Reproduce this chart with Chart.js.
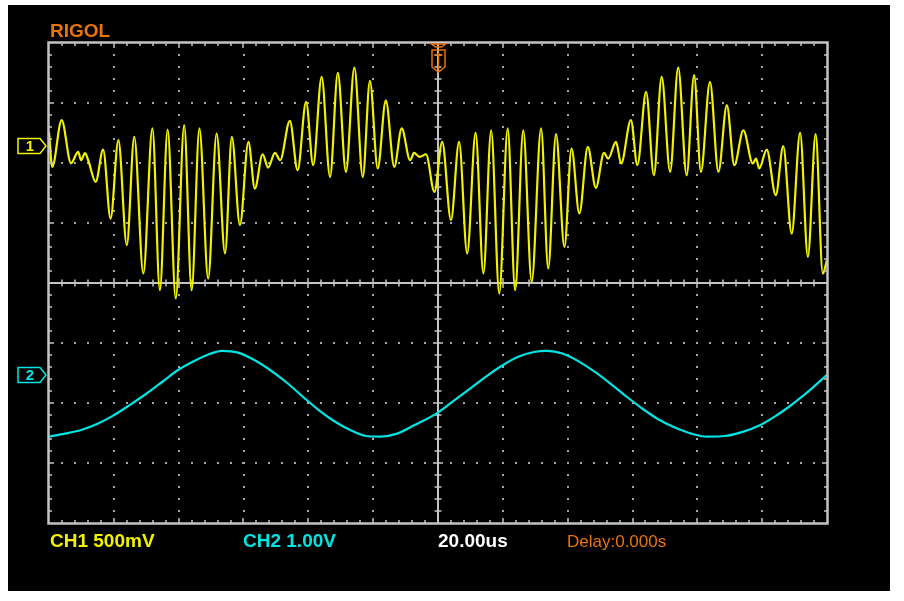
<!DOCTYPE html>
<html>
<head>
<meta charset="utf-8">
<script src="https://cdn.jsdelivr.net/npm/chart.js@4.4.1/dist/chart.umd.min.js"></script>
<style>
html,body{margin:0;padding:0;background:#ffffff;}
canvas{display:block;}
</style>
</head>
<body>
<canvas id="c" width="904" height="601"></canvas>
<script>
// ---- data (time in microseconds, CH1 in mV, CH2 in V) ----
const ch1Time = [-120.0,-119.0,-116.1,-113.2,-111.0,-110.1,-108.9,-107.9,-105.6,-103.3,-101.0,-98.6,-96.0,-93.7,-90.9,-88.1,-85.8,-83.4,-80.9,-78.3,-76.0,-73.6,-70.9,-68.3,-65.7,-63.6,-61.1,-58.5,-56.5,-54.1,-52.4,-50.3,-48.7,-45.7,-43.3,-40.7,-38.5,-35.9,-33.3,-30.9,-28.4,-25.8,-23.2,-21.0,-18.6,-16.1,-13.5,-11.2,-8.6,-7.4,-5.6,-3.7,-1.1,1.3,4.0,6.5,9.0,11.6,14.0,16.4,18.9,21.5,23.8,26.3,28.9,31.8,34.0,36.4,39.0,41.2,43.6,46.2,48.7,51.2,52.5,54.9,56.5,59.5,61.5,64.2,66.6,69.0,71.6,74.1,76.7,79.0,81.1,83.9,86.5,89.1,91.4,94.2,97.1,98.1,99.1,101.4,104.2,106.5,109.1,111.7,114.1,116.5,118.7,120.0];
const ch1mV = [117,-172,217,-142,-47,-117,-58,-117,-298,-28,-603,50,-825,78,-1061,148,-1200,139,-1269,175,-1200,148,-1103,106,-894,78,-658,36,-353,-67,-178,-56,-117,211,-200,369,-158,578,-256,611,-214,656,-256,544,-186,383,-172,148,-117,-56,-89,-67,-381,36,-617,36,-894,111,-1061,133,-1228,148,-1200,133,-1131,148,-1019,100,-839,-19,-561,-6,-347,-56,-103,36,-144,217,-158,453,-242,578,-214,656,-242,592,-214,536,-214,342,-158,133,-144,-103,-186,-28,-408,0,-728,111,-922,100,-1061,-950];
const ch2Time = [-120.0,-115.1,-110.1,-105.2,-100.2,-95.0,-90.1,-85.1,-80.2,-75.2,-70.3,-66.6,-61.7,-56.8,-51.8,-46.9,-42.0,-37.0,-32.1,-27.1,-22.2,-17.9,-12.6,-7.7,0,4.9,9.9,14.8,19.7,24.7,29.6,33.6,38.6,43.5,48.4,53.3,58.3,63.2,68.2,73.1,78.1,83.0,88.5,93.5,99.3,104.6,108.6,111.7,114.8,120.0];
const ch2V = [-1.03,-0.98,-0.92,-0.82,-0.68,-0.50,-0.32,-0.12,0.08,0.23,0.35,0.40,0.37,0.25,0.08,-0.12,-0.35,-0.58,-0.77,-0.92,-1.02,-1.03,-0.98,-0.85,-0.63,-0.43,-0.23,-0.03,0.15,0.30,0.38,0.40,0.35,0.22,0.05,-0.15,-0.37,-0.57,-0.75,-0.88,-0.98,-1.03,-1.02,-0.96,-0.84,-0.67,-0.52,-0.39,-0.25,0.00];

// scope settings
const timePerDiv = 20;      // us/div
const ch1PerDiv = 500;      // mV/div
const ch2PerDiv = 1.0;      // V/div
const ch1Pos = 2.28;        // ground marker, divisions above centre
const ch2Pos = -1.53;
const labels = {brand:'RIGOL', ch1:'CH1 500mV', ch2:'CH2 1.00V', tb:'20.00us', delay:'Delay:0.000s'};

const YEL = '#f2f200', CYA = '#00e4e4', ORA = '#e8740a', GRY = '#c4c4c4', DOT = '#a8a8a8';

const scopePlugin = {
  id: 'scope',
  beforeDraw(chart) {
    const ctx = chart.ctx;
    ctx.save();
    ctx.fillStyle = '#ffffff';
    ctx.fillRect(0, 0, chart.width, chart.height);
    ctx.fillStyle = '#000000';
    ctx.fillRect(8, 5, 882, 586);
    ctx.restore();
  },
  beforeDatasetsDraw(chart) {
    const ctx = chart.ctx, a = chart.chartArea;
    const xs = chart.scales.x;
    const L = a.left, R = a.right, T = a.top, B = a.bottom;
    const dx = (R - L) / 12, dy = (B - T) / 8;
    ctx.save();
    // dotted grid
    ctx.fillStyle = DOT;
    for (let i = 1; i < 12; i++) {
      if (i === 6) continue;
      const x = Math.round(xs.getPixelForValue(-120 + i * timePerDiv));
      for (let j = 1; j < 40; j++) {
        const y = Math.round(T + j * dy / 5);
        ctx.fillRect(x - 1, y - 1, 2, 2);
      }
    }
    for (let k = 1; k < 8; k++) {
      if (k === 4) continue;
      const y = Math.round(T + k * dy);
      for (let j = 1; j < 60; j++) {
        const x = Math.round(L + j * dx / 5);
        ctx.fillRect(x - 1, y - 1, 2, 2);
      }
    }
    // centre lines with ticks
    ctx.strokeStyle = GRY;
    ctx.lineWidth = 2;
    const cx = Math.round(xs.getPixelForValue(0)), cy = Math.round((T + B) / 2);
    ctx.beginPath();
    ctx.moveTo(cx, T); ctx.lineTo(cx, B);
    ctx.moveTo(L, cy); ctx.lineTo(R, cy);
    ctx.stroke();
    ctx.lineWidth = 1.5;
    ctx.beginPath();
    for (let j = 1; j < 40; j++) {
      const y = Math.round(T + j * dy / 5);
      const w = (j % 5 === 0) ? 5 : 3.5;
      ctx.moveTo(cx - w, y); ctx.lineTo(cx + w, y);
    }
    for (let j = 1; j < 60; j++) {
      const x = Math.round(L + j * dx / 5);
      const w = (j % 5 === 0) ? 5 : 3.5;
      ctx.moveTo(x, cy - w); ctx.lineTo(x, cy + w);
    }
    ctx.stroke();
    ctx.restore();
  },
  afterDatasetsDraw(chart) {
    const ctx = chart.ctx, a = chart.chartArea;
    const L = a.left, R = a.right, T = a.top, B = a.bottom;
    const dx = (R - L) / 12, dy = (B - T) / 8;
    ctx.save();
    // frame
    ctx.strokeStyle = GRY;
    ctx.lineWidth = 2.5;
    ctx.strokeRect(L - 0.5, T - 0.5, R - L + 1, B - T + 1);
    ctx.lineWidth = 1.5;
    ctx.beginPath();
    for (let j = 1; j < 60; j++) {
      const x = Math.round(L + j * dx / 5);
      const w = (j % 5 === 0) ? 5 : 3;
      ctx.moveTo(x, T); ctx.lineTo(x, T + w);
      ctx.moveTo(x, B); ctx.lineTo(x, B - w);
    }
    for (let j = 1; j < 40; j++) {
      const y = Math.round(T + j * dy / 5);
      const w = (j % 5 === 0) ? 5 : 3;
      ctx.moveTo(L, y); ctx.lineTo(L + w, y);
      ctx.moveTo(R, y); ctx.lineTo(R - w, y);
    }
    ctx.stroke();

    // channel markers
    const drawMarker = (yc, color, txt) => {
      ctx.strokeStyle = color;
      ctx.lineWidth = 1.5;
      ctx.beginPath();
      ctx.moveTo(18, yc - 7.5);
      ctx.lineTo(40, yc - 7.5);
      ctx.lineTo(46, yc);
      ctx.lineTo(40, yc + 7.5);
      ctx.lineTo(18, yc + 7.5);
      ctx.closePath();
      ctx.stroke();
      ctx.fillStyle = color;
      ctx.font = 'bold 15px "Liberation Sans", Arial, sans-serif';
      ctx.textAlign = 'center';
      ctx.textBaseline = 'middle';
      ctx.fillText(txt, 30, yc + 1);
    };
    drawMarker(Math.round(chart.scales.y1.getPixelForValue(0)), YEL, '1');
    drawMarker(Math.round(chart.scales.y2.getPixelForValue(0)), CYA, '2');

    // trigger marker
    const tx = Math.round(chart.scales.x.getPixelForValue(0)) + 0.5;
    ctx.strokeStyle = ORA;
    ctx.lineWidth = 1.5;
    ctx.beginPath();
    ctx.moveTo(tx - 7, T + 1); ctx.lineTo(tx + 7, T + 1); ctx.lineTo(tx + 3, T + 4); ctx.lineTo(tx - 3, T + 4); ctx.closePath();
    ctx.moveTo(tx - 6.5, T + 7); ctx.lineTo(tx + 6.5, T + 7); ctx.lineTo(tx + 6.5, T + 24);
    ctx.lineTo(tx, T + 29); ctx.lineTo(tx - 6.5, T + 24); ctx.closePath();
    ctx.moveTo(tx - 4, T + 12); ctx.lineTo(tx + 4, T + 12);
    ctx.moveTo(tx, T + 9); ctx.lineTo(tx, T + 27);
    ctx.stroke();

    // texts
    ctx.textAlign = 'left';
    ctx.textBaseline = 'alphabetic';
    ctx.font = 'bold 19px "Liberation Sans", Arial, sans-serif';
    ctx.fillStyle = ORA;
    ctx.fillText(labels.brand, 50, 37);
    ctx.fillStyle = YEL;
    ctx.fillText(labels.ch1, 50, 547);
    ctx.fillStyle = CYA;
    ctx.fillText(labels.ch2, 243, 547);
    ctx.fillStyle = '#ffffff';
    ctx.fillText(labels.tb, 438, 547);
    ctx.font = '17px "Liberation Sans", Arial, sans-serif';
    ctx.fillStyle = ORA;
    ctx.fillText(labels.delay, 567, 547);
    ctx.restore();
  }
};

const ch1Data = ch1Time.map((t, i) => ({x: t, y: ch1mV[i]}));
const ch2Data = ch2Time.map((t, i) => ({x: t, y: ch2V[i]}));

new Chart(document.getElementById('c'), {
  type: 'line',
  data: {
    datasets: [
      {label: 'CH1', data: ch1Data, yAxisID: 'y1', borderColor: YEL, borderWidth: 2.2, pointRadius: 0, cubicInterpolationMode: 'monotone', fill: false},
      {label: 'CH2', data: ch2Data, yAxisID: 'y2', borderColor: CYA, borderWidth: 2.2, pointRadius: 0, cubicInterpolationMode: 'monotone', fill: false}
    ]
  },
  options: {
    responsive: false,
    animation: false,
    events: [],
    layout: {padding: {left: 49, top: 43, right: 77, bottom: 78}},
    plugins: {legend: {display: false}, tooltip: {enabled: false}},
    scales: {
      x: {type: 'linear', display: false, min: -6 * timePerDiv, max: 6 * timePerDiv},
      y1: {type: 'linear', display: false, position: 'left', min: (-4 - ch1Pos) * ch1PerDiv, max: (4 - ch1Pos) * ch1PerDiv},
      y2: {type: 'linear', display: false, position: 'right', min: (-4 - ch2Pos) * ch2PerDiv, max: (4 - ch2Pos) * ch2PerDiv}
    }
  },
  plugins: [scopePlugin]
});
</script>
</body>
</html>
